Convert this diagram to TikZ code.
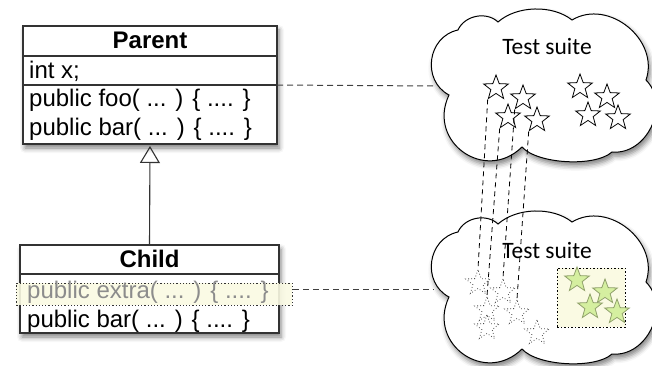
\documentclass[tikz,border=0pt]{standalone}
\usepackage{fontspec}
\setmainfont{Liberation Sans}
\newfontfamily\cloudfont{Carlito}
\usetikzlibrary{shapes.geometric,arrows.meta,shadows.blur}
\definecolor{boxc}{HTML}{333333}
\definecolor{hl}{HTML}{FAFAE3}
\definecolor{greenf}{HTML}{D5EFA0}
\definecolor{greend}{HTML}{8FA06A}
\definecolor{extrac}{HTML}{8C8C8C}
\newcommand\mycloudpath{(449,95) to[bend left=70, looseness=1.22] (458,30) to[bend left=55] (498,22) to[bend left=40, looseness=0.86] (572,20) to[bend left=70, looseness=1.14] (646,80) to[bend left=70, looseness=1.13] (612,152) to[bend left=45, looseness=0.65] (522,147) to[bend left=80, looseness=1.48] (449,95) -- cycle}
\begin{document}
\begin{tikzpicture}[x=1pt,y=-1pt,
  shad/.style={blur shadow={shadow xshift=2pt, shadow yshift=-4pt, shadow blur radius=5pt, shadow opacity=50}},
  comp/.style={draw=boxc, line width=1.1pt, inner sep=0pt, outer sep=0pt, anchor=north west},
  umltext/.style={font=\fontsize{24}{28}\selectfont, inner sep=0pt},
  cloudline/.style={draw=black, line width=1pt, fill=white, shad},
  cloudtitle/.style={font=\cloudfont\fontsize{23.5}{26}\selectfont, inner sep=0pt, anchor=base},
  st/.style={star, star points=5, star point ratio=2.4, minimum size=26pt, inner sep=0pt, draw=black, line width=0.8pt, fill=white},
  ghost/.style={st, draw=black!70, fill=none, dash pattern=on 0.8pt off 2.2pt},
  okst/.style={st, fill=greenf, draw=greend},
  trace/.style={draw=black, line width=0.8pt, dash pattern=on 5pt off 4pt},
  link/.style={draw=black!75, line width=1pt, dash pattern=on 6pt off 4pt}
]
\useasboundingbox (0,0) rectangle (652,366);

% ---------- clouds ----------
\path[cloudline] \mycloudpath;
\begin{scope}[shift={(0,202)}]
\path[cloudline] \mycloudpath;
\end{scope}
\coordinate (c1) at (434,86);
\coordinate (c2) at (434,289);
\node[cloudtitle] (t1) at (547,55) {Test suite};
\node[cloudtitle] (t2) at (547,258) {Test suite};

% ---------- Parent class ----------
\node[comp, fill=white, shad, minimum width=254pt, minimum height=118pt] (parent) at (23,26) {};
\node[comp, minimum width=254pt, minimum height=30pt] (ptitle) at (23,26) {};
\node[comp, minimum width=254pt, minimum height=29pt] (pattr) at (23,56) {};
\node[comp, minimum width=254pt, minimum height=59pt] (pops) at (23,85) {};
\node[umltext, font=\bfseries\fontsize{24}{28}\selectfont, anchor=base] (pname) at (150,49) {Parent};
\node[umltext, anchor=base west] (px) at (29,79) {int x;};
\node[umltext, anchor=base west] (pfoo) at (29,107) {public foo( ... ) \{ .... \}};
\node[umltext, anchor=base west] (pbar) at (29,136) {public bar( ... ) \{ .... \}};

% ---------- Child class ----------
\node[comp, fill=white, shad, minimum width=259pt, minimum height=88pt] (child) at (20,245) {};
\node[comp, minimum width=259pt, minimum height=29pt] (ctitle) at (20,245) {};
\node[comp, minimum width=259pt, minimum height=59pt] (cops) at (20,274) {};
\node[umltext, font=\bfseries\fontsize{24}{28}\selectfont, anchor=base] (cname) at (149.5,267) {Child};
\node[anchor=north west, minimum width=276pt, minimum height=22pt, inner sep=0pt, fill=hl, fill opacity=0.9, draw=black!80, line width=0.9pt, dash pattern=on 1.2pt off 2pt] (extra) at (16,283) {};
\node[umltext, anchor=base west, text=extrac] (cextra) at (27,298) {public extra( ... ) \{ .... \}};
\node[umltext, anchor=base west] (cbar) at (27,327) {public bar( ... ) \{ .... \}};

% inheritance
\draw[draw=boxc, line width=1.1pt, -{Triangle[open, length=17pt, width=20pt, line width=1.1pt]}, shorten >=2pt] (ctitle.north) -- (pops.south);

% links to test suites
\coordinate (l1) at (pops.north east);
\draw[link] (l1) -- (c1);
\coordinate (l2) at (extra.east |- c2);
\draw[link] (l2) -- (c2);

% ---------- stars in suite 1 ----------
\node[st] (s1) at (496,88) {};
\node[st] (s2) at (523,98) {};
\node[st] (s3) at (508,117) {};
\node[st] (s4) at (537,120) {};
\node[st] (s5) at (580,87) {};
\node[st] (s6) at (607,97) {};
\node[st] (s7) at (588,115) {};
\node[st] (s8) at (618,118) {};

% ---------- suite 2 ----------
\node[anchor=north west, minimum width=68pt, minimum height=59pt, inner sep=0pt, fill=hl, draw=black, line width=0.9pt, dash pattern=on 1.5pt off 2pt] (okbox) at (557,268) {};
\node[okst] (k1) at (577,280) {};
\node[okst] (k2) at (605,292) {};
\node[okst] (k3) at (590,307) {};
\node[okst] (k4) at (617,312) {};

\node[ghost] (g1) at (478,283) {};
\node[ghost] (g2) at (503,292) {};
\node[ghost] (g3) at (487,310) {};
\node[ghost] (g4) at (517,313) {};
\node[ghost] (g5) at (487,328) {};
\node[ghost] (g6) at (537,333) {};

\draw[trace] (s1.outer point 3) -- (g1.outer point 1);
\draw[trace] (s3.outer point 3) -- (g3.outer point 1);
\draw[trace] (s2.outer point 3) -- (g2.outer point 1);
\draw[trace] (s4.outer point 3) -- (g4.outer point 1);
\end{tikzpicture}
\end{document}
